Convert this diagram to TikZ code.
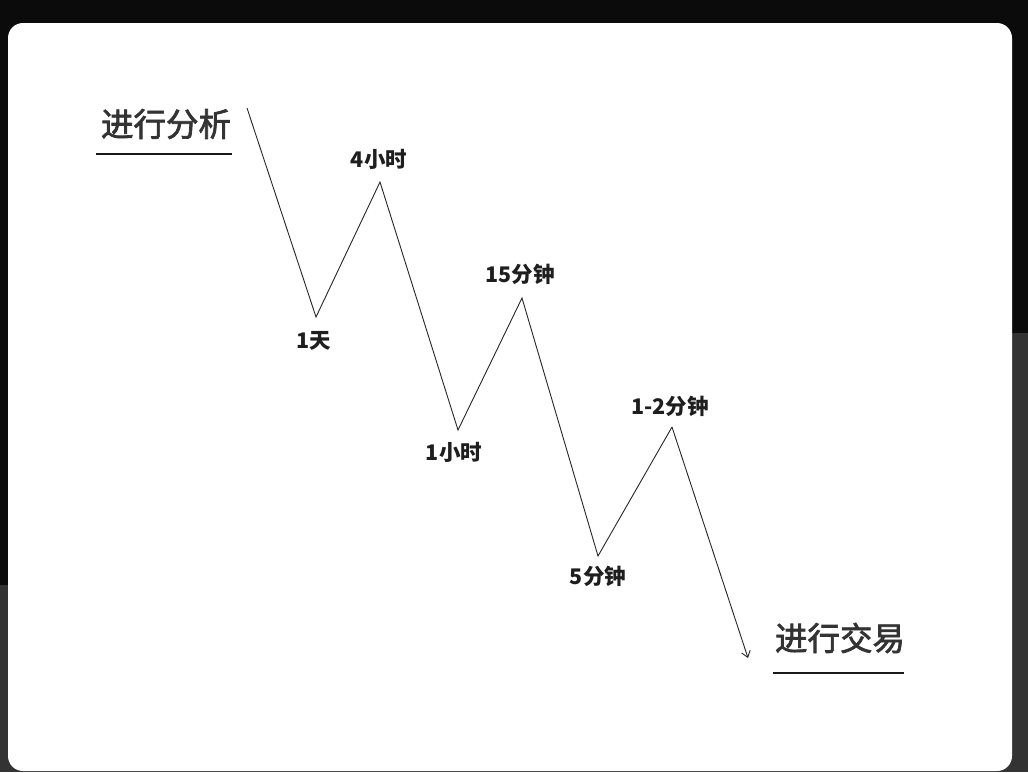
\documentclass[tikz,border=0pt]{standalone}
\usepackage{fontspec}
\newfontfamily\cjk{Noto Sans CJK SC}
\newfontfamily\cjkt[FakeBold=2.2]{Noto Sans CJK SC}
\usetikzlibrary{arrows.meta}
\definecolor{bgdark}{HTML}{0B0B0B}
\definecolor{bggray}{HTML}{333333}
\definecolor{titlecol}{HTML}{333333}
\definecolor{labcol}{HTML}{1E1E1E}
\begin{document}
\begin{tikzpicture}[x=1pt,y=-1pt,
  titletxt/.style={font=\cjkt\fontsize{32.5}{32.5}\selectfont, text=titlecol, inner sep=0pt},
  labtxt/.style={font=\cjk\bfseries\fontsize{21.5}{21.5}\selectfont, text=labcol, inner sep=0pt},
  wave/.style={draw=black!85, line width=0.9pt, line join=miter},
  uline/.style={draw=black!90, line width=2.6pt}]
\useasboundingbox (0,0) rectangle (1028,772);
% background
\fill[bgdark] (0,0) rectangle (1028,772);
\fill[bggray] (1008,333) rectangle (1028,772);
\fill[bggray] (0,585) rectangle (12,772);
\fill[bggray] (0,766) rectangle (1028,772);
\fill[white, rounded corners=15pt] (8,23) rectangle (1012,771);
% wave points
\coordinate (s) at (247,108);
\coordinate (v1) at (316,317);
\coordinate (p1) at (380,182);
\coordinate (v2) at (458,430);
\coordinate (p2) at (522,298);
\coordinate (v3) at (598,556);
\coordinate (p3) at (672,427);
\coordinate (e) at (748,658);
\draw[wave] (s) -- (v1) -- (p1) -- (v2) -- (p2) -- (v3) -- (p3);
\draw[wave, -{Straight Barb[length=6pt,width=9pt]}] (p3) -- (e);
% labels
\node[labtxt] (l1) at (314,341) {1天};
\node[labtxt] (l2) at (379,159) {4小时};
\node[labtxt] (l3) at (454,452) {1小时};
\node[labtxt] (l4) at (520,274) {15分钟};
\node[labtxt] (l5) at (598,576) {5分钟};
\node[labtxt] (l6) at (670,406) {1-2分钟};
% titles
\node[titletxt] (t1) at (166,124) {进行分析};
\node[titletxt] (t2) at (840,638) {进行交易};
\coordinate (u1a) at (96,154);
\coordinate (u1b) at (232,154);
\coordinate (u2a) at (773,673);
\coordinate (u2b) at (904,673);
\draw[uline] (u1a) -- (u1b);
\draw[uline] (u2a) -- (u2b);
\end{tikzpicture}
\end{document}
